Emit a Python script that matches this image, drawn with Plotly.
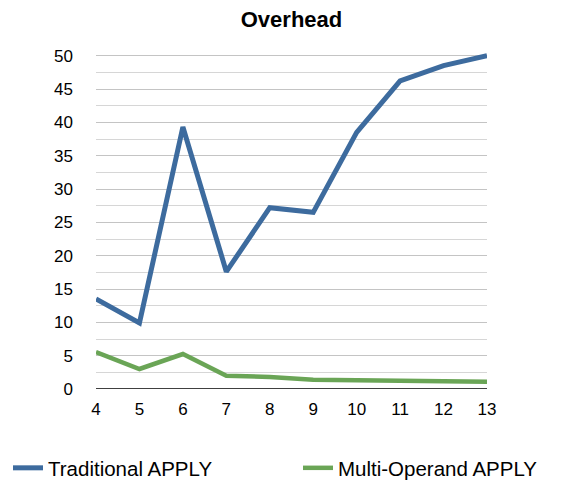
import plotly.graph_objects as go

# Bit widths on the x axis and the overhead measured for each APPLY variant
bits = [4, 5, 6, 7, 8, 9, 10, 11, 12, 13]
traditional_apply = [13.5, 9.9, 39.3, 17.6, 27.2, 26.5, 38.5, 46.2, 48.5, 50.0]
multi_operand_apply = [5.55, 3.0, 5.25, 2.0, 1.8, 1.4, 1.3, 1.2, 1.15, 1.1]
y_ticks = [0, 5, 10, 15, 20, 25, 30, 35, 40, 45, 50]

font_family = "Liberation Sans, Arial, sans-serif"

fig = go.Figure()
fig.add_trace(go.Scatter(
    x=bits, y=traditional_apply, mode="lines", name="Traditional APPLY",
    line=dict(color="#3d6b9e", width=5), legend="legend",
))
fig.add_trace(go.Scatter(
    x=bits, y=multi_operand_apply, mode="lines", name="Multi-Operand APPLY",
    line=dict(color="#6aa556", width=4.5), legend="legend2",
))

legend_common = dict(xref="container", yref="container", y=1 - 468 / 482,
                     yanchor="middle", xanchor="left", itemwidth=30,
                     bgcolor="rgba(0,0,0,0)",
                     font=dict(size=20.5, family=font_family, color="black"))

fig.update_layout(
    width=567, height=482,
    margin=dict(l=96, r=80, t=53, b=93, autoexpand=False),
    paper_bgcolor="white", plot_bgcolor="white",
    font=dict(family=font_family, size=17, color="black"),
    title=dict(text="<b>Overhead</b>", x=0.5, xref="paper", xanchor="center",
               y=1 - 19 / 482, yref="container", yanchor="middle",
               font=dict(size=22, family=font_family, color="black")),
    showlegend=True,
    legend=dict(x=8 / 567, **legend_common),
    legend2=dict(x=298 / 567, **legend_common),
    xaxis=dict(range=[4, 13], tickvals=bits, showgrid=False, zeroline=False,
               showline=False, ticks="", ticklabelstandoff=8),
    yaxis=dict(range=[0, 50.4], tickvals=y_ticks, showgrid=True,
               gridcolor="#c4c4c4", gridwidth=1, zeroline=False,
               showline=False, ticks="", ticklabelstandoff=22,
               minor=dict(dtick=2.5, tick0=0, showgrid=True,
                          gridcolor="#d6d6d6", gridwidth=1)),
)

# Baseline along y = 0
fig.add_shape(type="line", xref="paper", yref="y", x0=0, x1=1, y0=0, y1=0,
              line=dict(color="black", width=1.5))

fig.write_html("out.html")
